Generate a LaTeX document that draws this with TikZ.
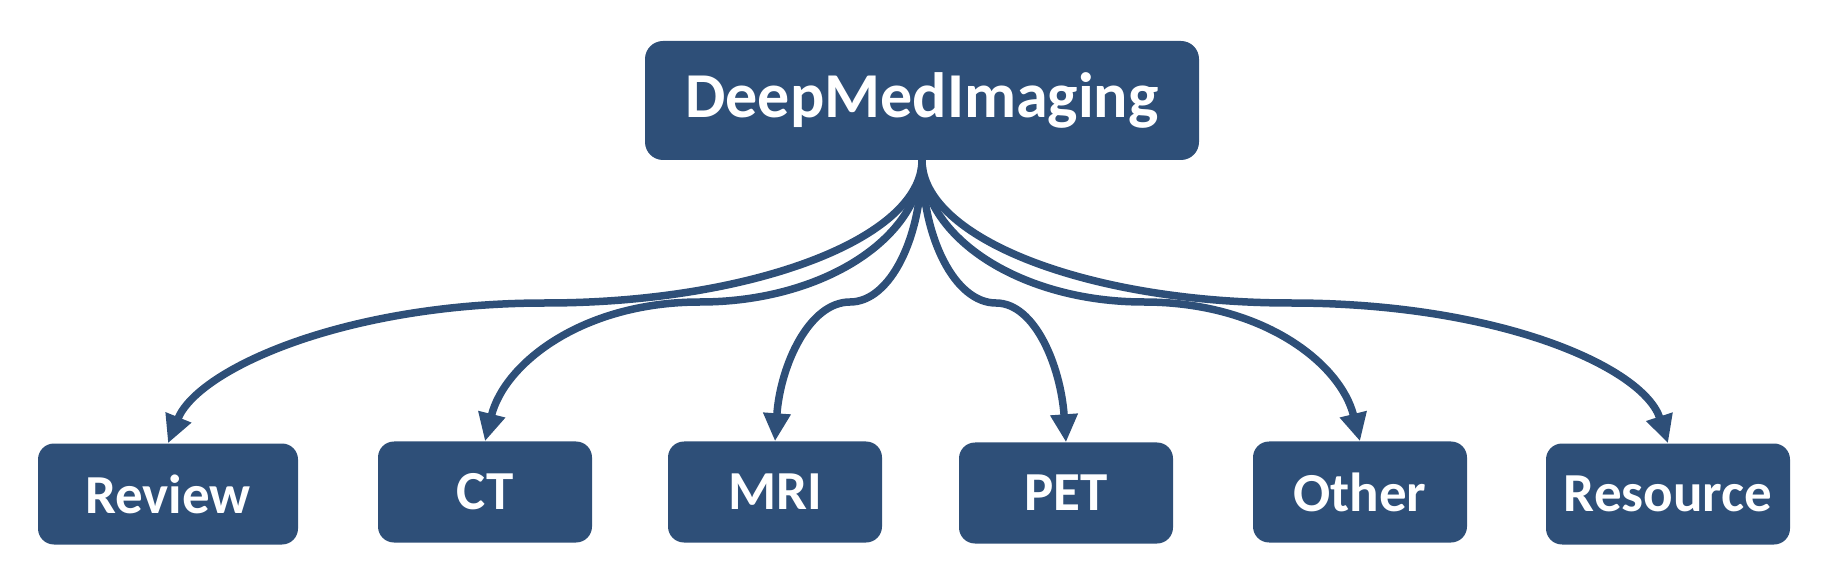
\documentclass[tikz,border=0pt]{standalone}
\usepackage{fontspec}
\setmainfont{Carlito}
\usetikzlibrary{positioning}
\usetikzlibrary{arrows.meta}
\definecolor{medblue}{RGB}{46,79,120}

\begin{document}
\begin{tikzpicture}[x=1pt,y=1pt,
	topbox/.style={fill=medblue,text=white,rounded corners=18pt,inner sep=0pt,
	        minimum width=554pt,minimum height=119pt,
	        font=\fontsize{64}{70}\selectfont\bfseries},
	leafbox/.style={fill=medblue,text=white,rounded corners=16pt,inner sep=0pt,
	        minimum width=214pt,minimum height=101pt,
	        font=\fontsize{55}{60}\selectfont\bfseries},
	branch/.style={draw=medblue,fill=medblue,line width=7.5pt,
	        -{Triangle[length=28pt,width=26pt]}}]
	
	\useasboundingbox (0,0) rectangle (1834,568);
	
	%root
	\node[topbox] (deep) at (922,467.5) {DeepMedImaging};
	
	%leaves
	\node[leafbox,minimum width=260pt] (review) at (168,74) {Review};
	\node[leafbox] (ct) at (485,76) {CT};
	\node[leafbox] (mri) at (775,76) {MRI};
	\node[leafbox] (pet) at (1066,75) {PET};
	\node[leafbox] (other) at (1360,76) {Other};
	\node[leafbox,minimum width=244pt] (resource) at (1668,74) {Resource};
	
	%bends of the connectors
	\coordinate (bendreview) at (545,265);
	\coordinate (bendct) at (700,266);
	\coordinate (bendmri) at (850,266);
	\coordinate (bendpet) at (996,265);
	\coordinate (bendother) at (1144,266);
	\coordinate (bendresource) at (1291,265);
	
	%left side
	\draw[branch,fill=none] (deep.south) to[out=-90,in=0,out distance=78pt,in distance=207pt] (bendreview)
	      to[out=180,in=68,out distance=200pt,in distance=80pt] (review.north);
	\draw[branch,fill=none] (deep.south) to[out=-90,in=0,out distance=78pt,in distance=122pt] (bendct)
	      to[out=180,in=76,out distance=118pt,in distance=80pt] (ct.north);
	\draw[branch,fill=none] (deep.south) to[out=-90,in=0,out distance=78pt,in distance=40pt] (bendmri)
	      to[out=180,in=86,out distance=41pt,in distance=76pt] (mri.north);
	
	%right side
	\draw[branch,fill=none] (deep.south) to[out=-90,in=180,out distance=78pt,in distance=41pt] (bendpet)
	      to[out=0,in=94,out distance=39pt,in distance=76pt] (pet.north);
	\draw[branch,fill=none] (deep.south) to[out=-90,in=180,out distance=78pt,in distance=122pt] (bendother)
	      to[out=0,in=104,out distance=119pt,in distance=80pt] (other.north);
	\draw[branch,fill=none] (deep.south) to[out=-90,in=180,out distance=78pt,in distance=203pt] (bendresource)
	      to[out=0,in=108,out distance=208pt,in distance=80pt] (resource.north);
	
\end{tikzpicture}
\end{document}
